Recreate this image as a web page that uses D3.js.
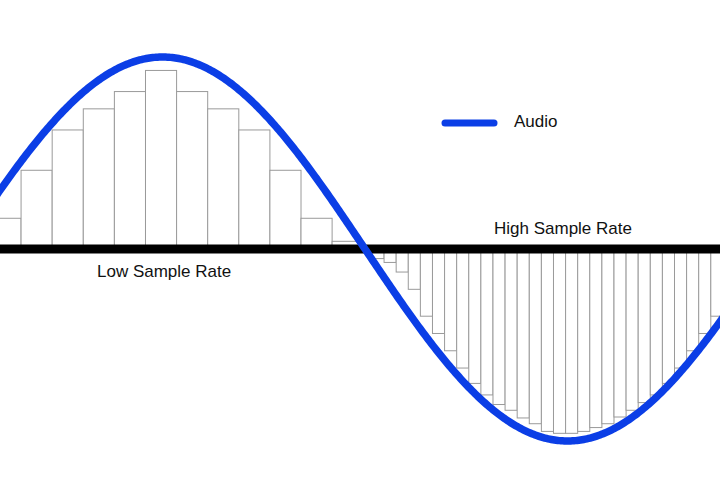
<!DOCTYPE html>
<html><head><meta charset="utf-8">
<script src="https://cdn.jsdelivr.net/npm/d3@7"></script>
<style>body{margin:0;background:#fff}svg{display:block}</style>
</head><body>
<svg id="c" width="720" height="500"></svg>
<script>
// Low sample rate samples (amplitude, -1..1)
const lowSamples = [0.16,0.41,0.62,0.73,0.82,0.93,0.82,0.73,0.62,0.41,0.16,0.04];
// High sample rate samples
const highSamples = [-0.05,-0.07,-0.12,-0.21,-0.35,-0.44,-0.53,-0.62,-0.70,-0.76,-0.81,-0.84,-0.88,-0.91,-0.95,-0.96,-0.96,-0.95,-0.93,-0.91,-0.875,-0.84,-0.80,-0.76,-0.70,-0.62,-0.53,-0.44,-0.35];
const lowStep = 0.0384, lowStart = 0.037;   // in cycles (time units)
const highStep = 0.01494, highStart = 0.5086;
const legendLabels = ["Audio"];
const rateLabels = ["High Sample Rate","Low Sample Rate"];

const svg = d3.select("#c");
const x = d3.scaleLinear().domain([0, 1]).range([-40, 770]);   // one audio cycle
const y = d3.scaleLinear().domain([-1, 1]).range([441, 57]);

function drawBars(data, start, step) {
  svg.append("g").selectAll("rect").data(data).join("rect")
    .attr("x", (d,i)=>x(start+i*step))
    .attr("width", x(step)-x(0))
    .attr("y", d=>Math.min(y(d), y(0)))
    .attr("height", d=>Math.abs(y(d)-y(0)))
    .attr("fill","#fff").attr("stroke","#9a9a9a").attr("stroke-width",1);
}
drawBars(lowSamples, lowStart, lowStep);
drawBars(highSamples, highStart, highStep);

svg.append("line").attr("x1",0).attr("x2",720).attr("y1",y(0)).attr("y2",y(0))
  .attr("stroke","#000").attr("stroke-width",9);

const ts = d3.range(0, 1.0001, 0.002);
svg.append("path").datum(ts)
  .attr("d", d3.line().x(t=>x(t)).y(t=>y(Math.sin(2*Math.PI*t))))
  .attr("fill","none").attr("stroke","#0b3ee6").attr("stroke-width",7.5);

svg.append("line").attr("x1",445).attr("x2",494).attr("y1",123).attr("y2",123)
  .attr("stroke","#0b3ee6").attr("stroke-width",7).attr("stroke-linecap","round");
const font = "'Liberation Sans', Arial, sans-serif";
svg.append("text").attr("x",514).attr("y",127).text(legendLabels[0])
  .attr("font-family",font).attr("font-size",17).attr("fill","#111");
svg.append("text").attr("x",494).attr("y",234).text(rateLabels[0])
  .attr("font-family",font).attr("font-size",17).attr("fill","#111");
svg.append("text").attr("x",97).attr("y",277).text(rateLabels[1])
  .attr("font-family",font).attr("font-size",17).attr("fill","#111");
</script>
</body></html>
